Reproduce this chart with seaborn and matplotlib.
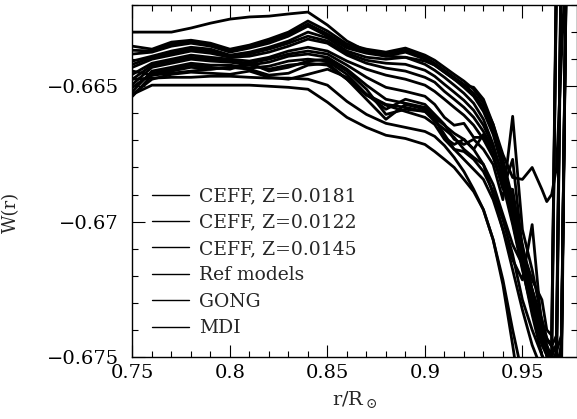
import numpy as np
import pandas as pd
import matplotlib
matplotlib.use("Agg")
import matplotlib.pyplot as plt
import seaborn as sns
from matplotlib.ticker import FixedLocator, FixedFormatter, MultipleLocator

# radius grid (r/Rsun) shared by all curves
r = [0.75, 0.76, 0.77, 0.78, 0.79, 0.80, 0.81, 0.82, 0.83, 0.84, 0.85, 0.86,
     0.87, 0.88, 0.89, 0.90, 0.905, 0.91, 0.915, 0.92, 0.925, 0.93, 0.935,
     0.94, 0.945, 0.95, 0.955, 0.96, 0.9625, 0.965, 0.9675, 0.97, 0.9725, 0.975]

# W(r), one list per curve
w_a = [-0.66300, -0.66300, -0.66300, -0.66285, -0.66267, -0.66252, -0.66244, -0.66241, -0.66233, -0.66226,
       -0.66274, -0.66333, -0.66370, -0.66389, -0.66393, -0.66407, -0.66422, -0.66448, -0.66474, -0.66496,
       -0.66504, -0.66548, -0.66641, -0.66752, -0.66837, -0.66844, -0.66800, -0.66881,
       -0.66926, -0.66900, -0.66800, -0.66400, -0.66000, -0.65800]
w_b = [-0.66530, -0.66496, -0.66496, -0.66496, -0.66496, -0.66496, -0.66496, -0.66500, -0.66504, -0.66511,
       -0.66559, -0.66615, -0.66652, -0.66681, -0.66693, -0.66715, -0.66741, -0.66770, -0.66800, -0.66844,
       -0.66889, -0.66956, -0.67067, -0.67233, -0.67456, -0.67696, -0.67881, -0.67956,
       -0.67956, -0.67900, -0.67800, -0.67600, -0.66050, -0.65800]
w_c = [-0.66474, -0.66470, -0.66467, -0.66467, -0.66463, -0.66463, -0.66467, -0.66470, -0.66470, -0.66474,
       -0.66496, -0.66556, -0.66604, -0.66637, -0.66652, -0.66667, -0.66685, -0.66719, -0.66763, -0.66815,
       -0.66881, -0.66956, -0.67067, -0.67215, -0.67400, -0.67567, -0.67733, -0.67807,
       -0.67807, -0.67750, -0.67650, -0.67500, -0.66000, -0.65800]
w_d = [-0.66444, -0.66459, -0.66452, -0.66444, -0.66437, -0.66430, -0.66437, -0.66459, -0.66452, -0.66422,
       -0.66415, -0.66474, -0.66530, -0.66567, -0.66578, -0.66593, -0.66615, -0.66644, -0.66674, -0.66696,
       -0.66733, -0.66789, -0.66900, -0.67030, -0.67178, -0.67326, -0.67456, -0.67548,
       -0.67567, -0.67600, -0.67550, -0.66050, -0.65850, -0.65800]
w_e1 = [-0.66352, -0.66363, -0.66337, -0.66330, -0.66341, -0.66363, -0.66348, -0.66326, -0.66300, -0.66259,
        -0.66296, -0.66344, -0.66363, -0.66374, -0.66359, -0.66385, -0.66404, -0.66430, -0.66456, -0.66481,
        -0.66511, -0.66563, -0.66641, -0.66770, -0.66919, -0.67085, -0.67252, -0.67400,
        -0.67456, -0.67500, -0.66050, -0.65900, -0.65850, -0.65800]
w_h1 = [-0.66367, -0.66370, -0.66344, -0.66337, -0.66348, -0.66370, -0.66356, -0.66333, -0.66307, -0.66270,
        -0.66307, -0.66352, -0.66370, -0.66381, -0.66367, -0.66393, -0.66415, -0.66441, -0.66467, -0.66493,
        -0.66526, -0.66578, -0.66659, -0.66789, -0.66937, -0.67104, -0.67270, -0.67419,
        -0.67470, -0.67500, -0.67450, -0.65950, -0.65850, -0.65800]
w_e2 = [-0.66381, -0.66374, -0.66352, -0.66341, -0.66352, -0.66374, -0.66359, -0.66341, -0.66315, -0.66278,
        -0.66315, -0.66359, -0.66378, -0.66389, -0.66374, -0.66400, -0.66422, -0.66448, -0.66474, -0.66504,
        -0.66537, -0.66593, -0.66678, -0.66807, -0.66956, -0.67122, -0.67289, -0.67437,
        -0.67493, -0.67520, -0.67480, -0.66000, -0.65850, -0.65800]
w_e3 = [-0.66407, -0.66389, -0.66370, -0.66356, -0.66363, -0.66385, -0.66374, -0.66356, -0.66333, -0.66300,
        -0.66322, -0.66370, -0.66393, -0.66400, -0.66393, -0.66419, -0.66441, -0.66467, -0.66496, -0.66526,
        -0.66563, -0.66622, -0.66715, -0.66844, -0.67000, -0.67170, -0.67344, -0.67493,
        -0.67530, -0.67560, -0.67550, -0.67450, -0.66050, -0.65800]
w_h2 = [-0.66419, -0.66393, -0.66378, -0.66363, -0.66370, -0.66389, -0.66381, -0.66363, -0.66341, -0.66315,
        -0.66333, -0.66378, -0.66404, -0.66415, -0.66419, -0.66441, -0.66463, -0.66493, -0.66522, -0.66552,
        -0.66589, -0.66644, -0.66722, -0.66833, -0.66985, -0.67156, -0.67319, -0.67444,
        -0.67480, -0.67520, -0.66100, -0.65900, -0.65850, -0.65800]
w_f1 = [-0.66430, -0.66400, -0.66385, -0.66370, -0.66378, -0.66393, -0.66389, -0.66374, -0.66352, -0.66326,
        -0.66341, -0.66385, -0.66415, -0.66433, -0.66444, -0.66467, -0.66485, -0.66519, -0.66548, -0.66578,
        -0.66615, -0.66667, -0.66733, -0.66826, -0.66974, -0.67141, -0.67289, -0.67400,
        -0.67437, -0.67450, -0.66000, -0.65900, -0.65850, -0.65800]
w_f2 = [-0.66456, -0.66415, -0.66400, -0.66385, -0.66393, -0.66400, -0.66407, -0.66393, -0.66370, -0.66356,
        -0.66370, -0.66407, -0.66437, -0.66459, -0.66474, -0.66496, -0.66519, -0.66548, -0.66578, -0.66607,
        -0.66644, -0.66696, -0.66763, -0.66863, -0.67011, -0.67178, -0.67326, -0.67456,
        -0.67493, -0.67530, -0.67500, -0.66000, -0.65850, -0.65800]
w_h3 = [-0.66474, -0.66422, -0.66407, -0.66393, -0.66400, -0.66407, -0.66415, -0.66400, -0.66381, -0.66370,
        -0.66381, -0.66422, -0.66467, -0.66504, -0.66519, -0.66537, -0.66567, -0.66615, -0.66644, -0.66637,
        -0.66689, -0.66689, -0.66756, -0.66874, -0.66881, -0.67104, -0.67252, -0.67363,
        -0.67430, -0.67460, -0.67420, -0.65950, -0.65850, -0.65800]
w_g1 = [-0.66493, -0.66430, -0.66415, -0.66400, -0.66407, -0.66411, -0.66422, -0.66411, -0.66389, -0.66381,
        -0.66393, -0.66437, -0.66496, -0.66548, -0.66563, -0.66578, -0.66615, -0.66689, -0.66715, -0.66696,
        -0.66733, -0.66678, -0.66752, -0.66881, -0.66770, -0.67104, -0.67215, -0.67289,
        -0.67400, -0.67420, -0.66100, -0.65900, -0.65850, -0.65800]
w_h4 = [-0.66504, -0.66452, -0.66437, -0.66422, -0.66430, -0.66437, -0.66415, -0.66444, -0.66430, -0.66407,
        -0.66400, -0.66444, -0.66511, -0.66604, -0.66585, -0.66593, -0.66630, -0.66659, -0.66689, -0.66733,
        -0.66763, -0.66789, -0.66863, -0.66974, -0.67085, -0.67159, -0.67252, -0.67381,
        -0.67460, -0.67520, -0.67540, -0.67480, -0.66100, -0.65800]
w_g2 = [-0.66519, -0.66444, -0.66430, -0.66415, -0.66422, -0.66422, -0.66433, -0.66426, -0.66407, -0.66400,
        -0.66407, -0.66456, -0.66530, -0.66585, -0.66548, -0.66567, -0.66604, -0.66641, -0.66696, -0.66715,
        -0.66696, -0.66733, -0.66789, -0.66919, -0.66611, -0.67030, -0.67178, -0.67363,
        -0.67437, -0.67460, -0.67480, -0.67420, -0.66100, -0.65800]
w_g3 = [-0.66537, -0.66459, -0.66444, -0.66430, -0.66437, -0.66430, -0.66422, -0.66437, -0.66422, -0.66415,
        -0.66422, -0.66474, -0.66548, -0.66622, -0.66567, -0.66585, -0.66622, -0.66678, -0.66733, -0.66770,
        -0.66807, -0.66844, -0.66919, -0.67030, -0.67141, -0.67215, -0.67011, -0.67400,
        -0.67500, -0.67548, -0.67560, -0.67500, -0.66000, -0.65800]
w_h5 = [-0.66530, -0.66474, -0.66456, -0.66448, -0.66452, -0.66456, -0.66444, -0.66467, -0.66474, -0.66456,
        -0.66437, -0.66467, -0.66533, -0.66570, -0.66593, -0.66615, -0.66641, -0.66696, -0.66733, -0.66741,
        -0.66770, -0.66815, -0.66889, -0.66993, -0.67122, -0.67289, -0.67400, -0.67493,
        -0.67540, -0.67560, -0.67560, -0.67500, -0.66050, -0.65800]

model_names = ["CEFF, Z=0.0181", "CEFF, Z=0.0122", "CEFF, Z=0.0145",
               "Ref models", "GONG", "MDI"]
curves = {
    "a": (w_a, model_names[0]), "e1": (w_e1, model_names[0]), "h1": (w_h1, model_names[0]),
    "b": (w_b, model_names[1]), "e2": (w_e2, model_names[1]), "h2": (w_h2, model_names[1]),
    "c": (w_c, model_names[2]), "e3": (w_e3, model_names[2]), "h3": (w_h3, model_names[2]),
    "d": (w_d, model_names[3]), "f1": (w_f1, model_names[3]), "h4": (w_h4, model_names[3]),
    "g1": (w_g1, model_names[4]), "f2": (w_f2, model_names[4]), "h5": (w_h5, model_names[4]),
    "g2": (w_g2, model_names[5]), "g3": (w_g3, model_names[5]),
}

xticks = [0.75, 0.80, 0.85, 0.90, 0.95]
xticklabels = ["0.75", "0.8", "0.85", "0.9", "0.95"]
yticks = [-0.675, -0.670, -0.665]
yticklabels = ["\u22120.675", "\u22120.67", "\u22120.665"]

rows = []
for name, (w, model) in curves.items():
    for ri, wi in zip(r, w):
        rows.append({"r": ri, "W": wi, "curve": name, "model": model})
df = pd.DataFrame(rows)

sns.set_theme(style="ticks")
plt.rcParams["font.family"] = ["DejaVu Serif"]
plt.rcParams["mathtext.fontset"] = "dejavuserif"

fig = plt.figure(figsize=(5.77, 4.19), dpi=100)
ax = fig.add_axes([0.2296, 0.148, 0.7704, 0.840])

sns.lineplot(data=df, x="r", y="W", hue="model", hue_order=model_names,
             units="curve", estimator=None, sort=False,
             palette=["black"] * 6, linewidth=2.0, ax=ax)

ax.set_xlim(0.75, 0.978)
ax.set_ylim(-0.675, -0.662)

ax.xaxis.set_major_locator(FixedLocator(xticks))
ax.xaxis.set_major_formatter(FixedFormatter(xticklabels))
ax.xaxis.set_minor_locator(MultipleLocator(0.01))
ax.yaxis.set_major_locator(FixedLocator(yticks))
ax.yaxis.set_major_formatter(FixedFormatter(yticklabels))
ax.yaxis.set_minor_locator(MultipleLocator(0.001))
ax.tick_params(which="both", direction="in", top=True, right=True,
               colors="black", width=0.8, labelsize=14)
ax.tick_params(which="major", length=9)
ax.tick_params(which="minor", length=4.5)
ax.tick_params(axis="x", pad=5)
ax.tick_params(axis="y", pad=10)
for s in ax.spines.values():
    s.set_color("black")
    s.set_linewidth(1.0)

ax.set_xlabel(r"r/R$_\odot$", fontsize=14)
ax.xaxis.set_label_coords(0.5, -0.09)
ax.set_ylabel("W(r)", fontsize=13)
ax.yaxis.set_label_coords(-0.253, 0.41)

handles, labels = ax.get_legend_handles_labels()
for h in handles:
    h.set_linewidth(1.0)
ax.legend(handles, labels, loc="lower left", bbox_to_anchor=(0.045, 0.056),
          frameon=False, fontsize=13.5, handlelength=1.95, handletextpad=0.55,
          labelspacing=0.45, borderpad=0, borderaxespad=0)

fig.savefig("out.png", dpi=100)
